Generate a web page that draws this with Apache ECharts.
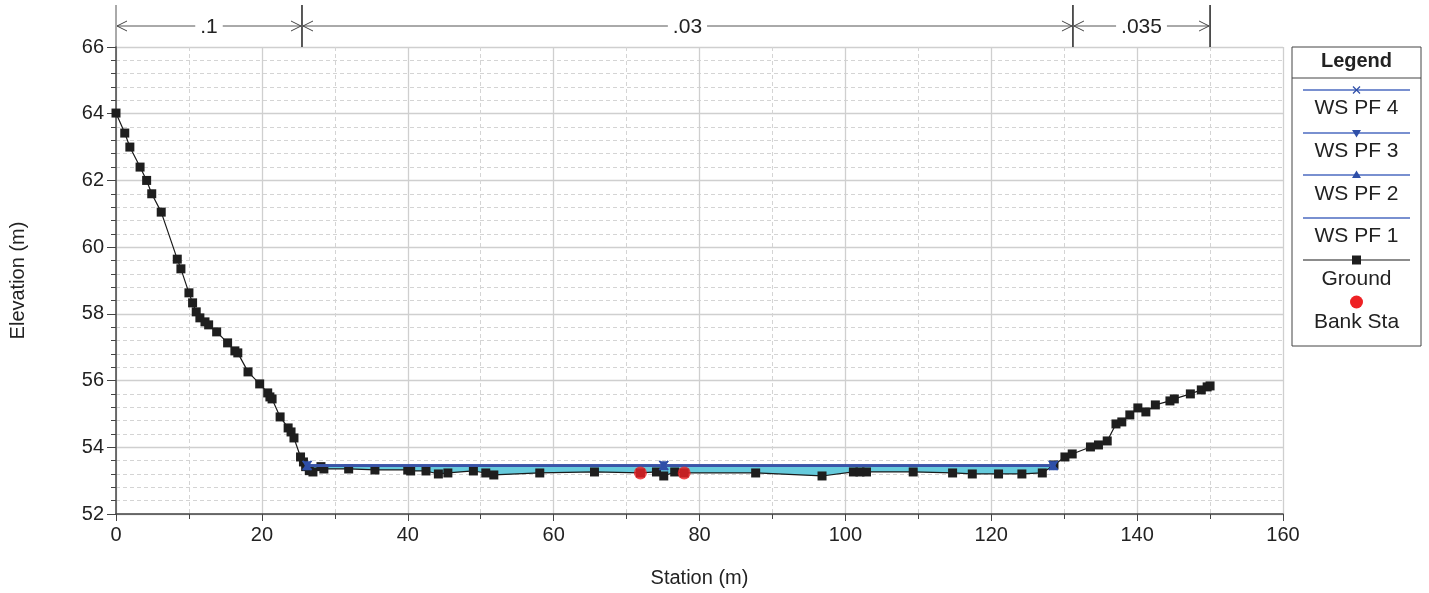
<!DOCTYPE html>
<html>
<head>
<meta charset="utf-8">
<script src="https://cdn.jsdelivr.net/npm/echarts@6/dist/echarts.min.js"></script>
<style>
html,body{margin:0;padding:0;background:#fff;}
#chart{width:1429px;height:593px;}
</style>
</head>
<body>
<div id="chart"></div>
<script>
// ---- data ----
const groundStation = [0,1.2,1.9,3.3,4.2,4.9,6.2,8.4,8.9,10.0,10.5,11.0,11.5,12.2,12.7,13.8,15.3,16.3,16.7,18.1,19.7,20.8,21.1,21.4,22.5,23.6,24.0,24.4,25.3,25.7,26.0,26.5,27.0,28.1,28.5,31.9,35.5,40.0,40.4,42.5,44.2,45.5,49.0,50.7,51.8,58.1,65.6,71.9,74.1,75.1,76.6,77.9,87.7,96.8,101.1,102.0,102.9,109.3,114.7,117.4,121.0,124.2,127.0,128.6,130.1,131.1,133.6,134.7,135.9,137.1,137.9,139.0,140.1,141.2,142.5,144.5,145.1,147.3,148.8,149.6,150.0];
const groundElevation = [64.02,63.42,63.0,62.4,62.0,61.6,61.05,59.64,59.35,58.63,58.33,58.06,57.88,57.76,57.67,57.46,57.13,56.89,56.83,56.26,55.9,55.63,55.51,55.45,54.91,54.58,54.46,54.28,53.71,53.56,53.42,53.30,53.26,53.42,53.35,53.35,53.32,53.32,53.29,53.29,53.20,53.23,53.29,53.23,53.17,53.23,53.26,53.23,53.26,53.14,53.26,53.23,53.23,53.14,53.26,53.26,53.26,53.26,53.23,53.20,53.20,53.20,53.23,53.47,53.71,53.80,54.01,54.07,54.19,54.70,54.76,54.97,55.18,55.06,55.27,55.39,55.45,55.60,55.72,55.81,55.84];
const bankStation = [71.9, 77.9];
const bankElevation = [53.23, 53.23];
const wsStation = [26.2, 75.1, 128.5];
const wsNames = ['WS PF 4','WS PF 3','WS PF 2','WS PF 1'];
const wsElevation = [53.46, 53.45, 53.45, 53.44];
const nStart = [0, 25.5, 131.2];
const nEnd = [25.5, 131.2, 150];
const nLabel = ['.1', '.03', '.035'];
const xTicks = [0,20,40,60,80,100,120,140,160];
const yTicks = [52,54,56,58,60,62,64,66];

// ---- build ----
const FONT = 'Liberation Sans, Arial, sans-serif';
const groundData = groundStation.map((s,i)=>[s, groundElevation[i]]);
const bankData = bankStation.map((s,i)=>[s, bankElevation[i]]);
const wsSymbols = [
  {symbol:'path://M0,0L10,10M10,0L0,10', rotate:0},
  {symbol:'triangle', rotate:180},
  {symbol:'triangle', rotate:0},
  {symbol:'none', rotate:0}
];
const WS_LINE = '#4D6BC0';
const WS_PLOT_LINE = '#3A55A8';
const WS_MARK = '#2F4FA8';

const chart = echarts.init(document.getElementById('chart'), null, {renderer:'canvas'});

const wsSeries = wsNames.map((name, k) => ({
  type:'line', name:name,
  data: wsStation.map(s => [s, wsElevation[k]]),
  symbol: wsSymbols[k].symbol,
  symbolRotate: wsSymbols[k].rotate,
  symbolSize: 9,
  showSymbol: true,
  lineStyle:{color:WS_PLOT_LINE, width:2.2},
  itemStyle: k===0 ? {color:WS_MARK, borderColor:WS_MARK, borderWidth:1.8} : {color:WS_MARK},
  z: 5, animation:false, silent:true
}));

const option = {
  animation:false,
  grid:{left:115, right:146, top:47, bottom:79, containLabel:false},
  xAxis:{
    type:'value', min:0, max:160, interval:20,
    name:'Station (m)', nameLocation:'middle', nameGap:54,
    nameTextStyle:{fontFamily:FONT, fontSize:20, color:'#222'},
    axisLine:{show:true, onZero:false, lineStyle:{color:'#444', width:1.5}},
    axisTick:{show:true, length:7, lineStyle:{color:'#444'}},
    minorTick:{show:true, splitNumber:2, length:5, lineStyle:{color:'#444'}},
    axisLabel:{fontFamily:FONT, fontSize:20, color:'#222', margin:11},
    splitLine:{show:true, lineStyle:{color:'#cfcfcf', width:1.3}},
    minorSplitLine:{show:true, lineStyle:{color:'#d4d4d4', type:[4,3], width:1}}
  },
  yAxis:{
    type:'value', min:52, max:66, interval:2,
    name:'Elevation (m)', nameLocation:'middle', nameGap:88, nameRotate:90,
    nameTextStyle:{fontFamily:FONT, fontSize:20, color:'#222'},
    axisLine:{show:true, onZero:false, lineStyle:{color:'#444', width:1.5}},
    axisTick:{show:true, length:9, lineStyle:{color:'#444'}},
    minorTick:{show:true, splitNumber:5, length:5, lineStyle:{color:'#444'}},
    axisLabel:{fontFamily:FONT, fontSize:20, color:'#222', margin:12},
    splitLine:{show:true, lineStyle:{color:'#cfcfcf', width:1.3}},
    minorSplitLine:{show:true, lineStyle:{color:'#d4d4d4', type:[4,3], width:1}}
  },
  series:[
    // water fill
    {
      type:'custom', name:'water', coordinateSystem:'cartesian2d', silent:true, z:2,
      data:[[wsStation[0], wsElevation[3]]],
      renderItem:function(params, api){
        const wl = wsStation[0], wr = wsStation[wsStation.length-1], we = wsElevation[3];
        const pts = [api.coord([wl, we]), api.coord([wr, we])];
        for (let i = groundStation.length-1; i >= 0; i--) {
          if (groundStation[i] > wl && groundStation[i] < wr) pts.push(api.coord([groundStation[i], groundElevation[i]]));
        }
        return {type:'polygon', shape:{points:pts}, style:{fill:'#66CADC', stroke:null}};
      }
    },
    // ground
    {
      type:'line', name:'Ground', data:groundData, symbol:'rect', symbolSize:9,
      showSymbol:true, showAllSymbol:true,
      lineStyle:{color:'#1a1a1a', width:1.2}, itemStyle:{color:'#1e1e1e'}, z:4, silent:true
    },
    ...wsSeries,
    // bank stations
    {
      type:'scatter', name:'Bank Sta', data:bankData, symbol:'circle', symbolSize:13,
      itemStyle:{color:'#EE2124'}, z:7, silent:true
    },
    // n-value annotations
    {
      type:'custom', name:'nvalues', coordinateSystem:'cartesian2d', silent:true, clip:false, z:8,
      data: nStart.map((s,i)=>[s, nEnd[i], i]),
      encode:{x:[0,1], y:[]},
      renderItem:function(params, api){
        const i = api.value(2);
        const x0 = api.coord([api.value(0), 66])[0];
        const x1 = api.coord([api.value(1), 66])[0];
        const top = api.coord([0, 66])[1];
        const ay = top - 21;
        const vt = top - 42;
        const children = [
          {type:'line', shape:{x1:x0+1, y1:ay, x2:x1-1, y2:ay}, style:{stroke:'#555', lineWidth:1}},
          {type:'polyline', shape:{points:[[x0+11,ay-5],[x0+1,ay],[x0+11,ay+5]]}, style:{stroke:'#444', lineWidth:1, fill:null}},
          {type:'polyline', shape:{points:[[x1-11,ay-5],[x1-1,ay],[x1-11,ay+5]]}, style:{stroke:'#444', lineWidth:1, fill:null}},
          {type:'line', shape:{x1:x1, y1:vt, x2:x1, y2:top}, style:{stroke:'#222', lineWidth:1.5}},
          {type:'text', x:(x0+x1)/2, y:ay+1, style:{text:nLabel[i], fill:'#222', font:'21px '+FONT, align:'center', verticalAlign:'middle', backgroundColor:'#fff', padding:[0,5]}}
        ];
        if (i === 0) children.push({type:'line', shape:{x1:x0, y1:vt, x2:x0, y2:top}, style:{stroke:'#555', lineWidth:1}});
        return {type:'group', children:children};
      }
    }
  ],
  graphic:[]
};

// legend (drawn as graphics)
const LX = 1292, LY = 47, LW = 129, LH = 299;
const cx = LX + LW/2;
const lx0 = 1303, lx1 = 1410;
const g = [];
g.push({type:'rect', shape:{x:LX, y:LY, width:LW, height:LH}, style:{fill:'#fff', stroke:'#444', lineWidth:1}, z:100});
g.push({type:'text', x:cx, y:61, style:{text:'Legend', font:'bold 20px '+FONT, fill:'#222', align:'center', verticalAlign:'middle'}, z:101});
g.push({type:'line', shape:{x1:LX, y1:78, x2:LX+LW, y2:78}, style:{stroke:'#444', lineWidth:1}, z:101});
const legendItems = [
  {label:'WS PF 4', ly:90, ty:108, kind:'x'},
  {label:'WS PF 3', ly:133, ty:151, kind:'down'},
  {label:'WS PF 2', ly:175, ty:194, kind:'up'},
  {label:'WS PF 1', ly:218, ty:236, kind:'none'},
  {label:'Ground', ly:260, ty:279, kind:'ground'},
  {label:'Bank Sta', ly:302, ty:322, kind:'bank'}
];
legendItems.forEach(it => {
  if (it.kind !== 'bank') {
    g.push({type:'line', shape:{x1:lx0, y1:it.ly, x2:lx1, y2:it.ly}, style:{stroke: it.kind==='ground' ? '#1a1a1a' : WS_LINE, lineWidth: it.kind==='ground'?1.2:1.5}, z:101});
  }
  if (it.kind === 'x') {
    g.push({type:'polyline', shape:{points:[[cx-3.5,it.ly-3.5],[cx+3.5,it.ly+3.5]]}, style:{stroke:WS_MARK, lineWidth:1.3}, z:102});
    g.push({type:'polyline', shape:{points:[[cx+3.5,it.ly-3.5],[cx-3.5,it.ly+3.5]]}, style:{stroke:WS_MARK, lineWidth:1.3}, z:102});
  } else if (it.kind === 'down') {
    g.push({type:'polygon', shape:{points:[[cx-4.5,it.ly-3],[cx+4.5,it.ly-3],[cx,it.ly+4.5]]}, style:{fill:WS_MARK}, z:102});
  } else if (it.kind === 'up') {
    g.push({type:'polygon', shape:{points:[[cx-4.5,it.ly+3],[cx+4.5,it.ly+3],[cx,it.ly-4.5]]}, style:{fill:WS_MARK}, z:102});
  } else if (it.kind === 'ground') {
    g.push({type:'rect', shape:{x:cx-4.5, y:it.ly-4.5, width:9, height:9}, style:{fill:'#1e1e1e'}, z:102});
  } else if (it.kind === 'bank') {
    g.push({type:'circle', shape:{cx:cx, cy:it.ly, r:6.5}, style:{fill:'#EE2124'}, z:102});
  }
  g.push({type:'text', x:cx, y:it.ty, style:{text:it.label, font:'21px '+FONT, fill:'#222', align:'center', verticalAlign:'middle'}, z:101});
});
option.graphic = g;

chart.setOption(option);
</script>
</body>
</html>
